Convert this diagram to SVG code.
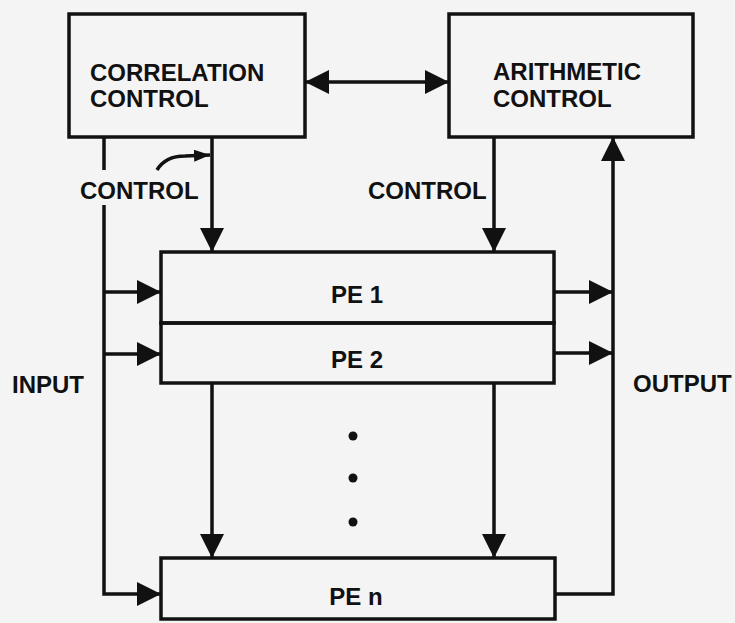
<svg xmlns="http://www.w3.org/2000/svg" width="735" height="623" viewBox="0 0 735 623">
<style>
.box{fill:none;stroke:#111;stroke-width:3.5;stroke-linejoin:miter}
.ln{fill:none;stroke:#111;stroke-width:3.5}
.t{font-family:"Liberation Sans",Arial,sans-serif;font-weight:bold;font-size:24px;fill:#111}
.c{text-anchor:middle}
</style>
<defs>
<marker id="ah" markerUnits="userSpaceOnUse" markerWidth="24" markerHeight="24" viewBox="0 0 22 22" refX="22" refY="11" orient="auto-start-reverse">
<path d="M0,0 L22,11 L0,22 Z" fill="#111"/>
</marker>
<marker id="sm" markerUnits="userSpaceOnUse" markerWidth="16" markerHeight="12" viewBox="0 0 16 12" refX="16" refY="6" orient="auto">
<path d="M0,0 L16,6 L0,12 Z" fill="#111"/>
</marker>
</defs>
<rect width="735" height="623" fill="#f4f4f4"/>
<g id="correlation-control">
<rect class="box" x="69" y="14" width="236" height="123"/>
<text class="t" x="90" y="81">CORRELATION</text>
<text class="t" x="90" y="107">CONTROL</text>
</g>
<g id="arithmetic-control">
<rect class="box" x="449" y="14" width="244" height="123"/>
<text class="t" x="493" y="80">ARITHMETIC</text>
<text class="t" x="493" y="107">CONTROL</text>
</g>
<g id="pe1">
<rect class="box" x="161" y="252" width="393" height="71"/>
<text class="t c" x="357" y="303">PE 1</text>
</g>
<g id="pe2">
<rect class="box" x="161" y="323" width="393" height="60"/>
<text class="t c" x="357" y="368">PE 2</text>
</g>
<g id="ellipsis">
<circle cx="353" cy="436" r="4.5" fill="#111"/>
<circle cx="353" cy="478" r="4.5" fill="#111"/>
<circle cx="353" cy="522" r="4.5" fill="#111"/>
</g>
<g id="pen">
<rect class="box" x="161" y="558" width="394" height="61"/>
<text class="t c" x="356" y="605">PE n</text>
</g>
<g id="labels">
<text class="t" x="80" y="199">CONTROL</text>
<text class="t" x="368" y="199">CONTROL</text>
<text class="t" x="12" y="393">INPUT</text>
<text class="t" x="633" y="392">OUTPUT</text>
</g>
<g id="connectors">
<line class="ln" x1="305" y1="82" x2="449" y2="82" marker-start="url(#ah)" marker-end="url(#ah)"/>
<line class="ln" x1="212" y1="137" x2="212" y2="252" marker-end="url(#ah)"/>
<line class="ln" x1="494" y1="137" x2="494" y2="252" marker-end="url(#ah)"/>
<line class="ln" x1="212" y1="383" x2="212" y2="558" marker-end="url(#ah)"/>
<line class="ln" x1="494" y1="383" x2="494" y2="558" marker-end="url(#ah)"/>
<path class="ln" d="M157,170 C163,160 172,156 185,156 L210,155" marker-end="url(#sm)"/>
<line class="ln" x1="104" y1="137" x2="104" y2="170"/>
<path class="ln" d="M104,205 L104,594 L161,594" marker-end="url(#ah)"/>
<line class="ln" x1="104" y1="292" x2="161" y2="292" marker-end="url(#ah)"/>
<line class="ln" x1="104" y1="354" x2="161" y2="354" marker-end="url(#ah)"/>
<line class="ln" x1="554" y1="292" x2="613" y2="292" marker-end="url(#ah)"/>
<line class="ln" x1="554" y1="353" x2="613" y2="353" marker-end="url(#ah)"/>
<path class="ln" d="M555,594 L613,594 L613,137" marker-end="url(#ah)"/>
</g>
</svg>
